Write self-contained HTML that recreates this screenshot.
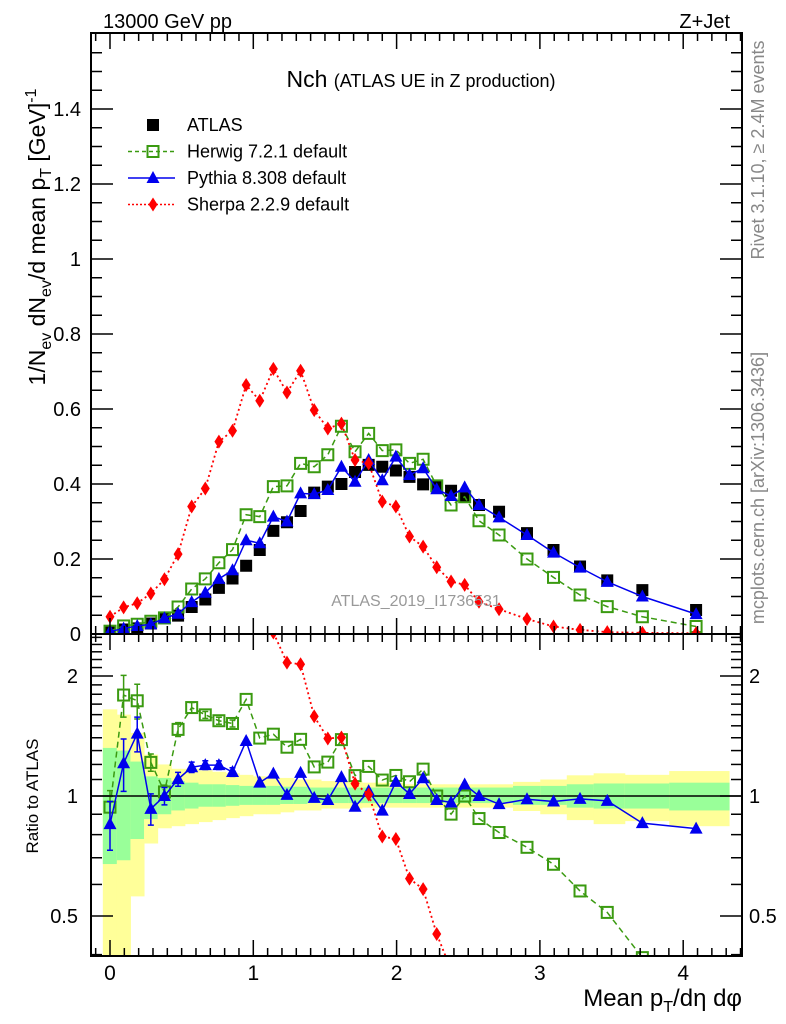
<!DOCTYPE html>
<html><head><meta charset="utf-8"><style>
html,body{margin:0;padding:0;background:#fff;width:786px;height:1024px;overflow:hidden;}
svg{display:block;font-family:"Liberation Sans",sans-serif;}
</style></head><body>
<svg id="chart" width="786" height="1024" viewBox="0 0 786 1024" xmlns="http://www.w3.org/2000/svg">
<g id="bands"></g>
<g id="marks"></g>
<g id="axes"></g>
<text x="103" y="28" font-size="20">13000 GeV pp</text>
<text x="730" y="28" font-size="20" text-anchor="end">Z+Jet</text>
<text x="421" y="87" text-anchor="middle"><tspan font-size="23">Nch </tspan><tspan font-size="18">(ATLAS UE in Z production)</tspan></text>
<text x="416" y="606" font-size="16" fill="#999" text-anchor="middle">ATLAS_2019_I1736531</text>
<text transform="translate(764,150) rotate(-90)" font-size="18" fill="#888" text-anchor="middle">Rivet 3.1.10, ≥ 2.4M events</text>
<text transform="translate(764,488) rotate(-90)" font-size="18" fill="#888" text-anchor="middle">mcplots.cern.ch [arXiv:1306.3436]</text>
<text transform="translate(45,237) rotate(-90)" font-size="23" text-anchor="middle">1/N<tspan font-size="16" dy="6">ev</tspan><tspan dy="-6"> dN</tspan><tspan font-size="16" dy="6">ev</tspan><tspan dy="-6">/d mean p</tspan><tspan font-size="16" dy="6">T</tspan><tspan dy="-6"> [GeV]</tspan><tspan font-size="16" dy="-9">-1</tspan></text>
<text transform="translate(38,796) rotate(-90)" font-size="17" text-anchor="middle">Ratio to ATLAS</text>
<text x="742" y="1006" font-size="24" text-anchor="end">Mean p<tspan font-size="16" dy="6">T</tspan><tspan dy="-6">/dη dφ</tspan></text>
<g id="legend"></g>
</svg>
<script>
const xVals=[0,0.095,0.19,0.285,0.38,0.475,0.57,0.665,0.76,0.855,0.95,1.045,1.14,1.235,1.33,1.425,1.52,1.615,1.71,1.805,1.90,1.995,2.09,2.185,2.28,2.38,2.475,2.575,2.715,2.91,3.095,3.28,3.47,3.715,4.09];
const atlas=[0.008,0.012,0.015,0.028,0.042,0.049,0.072,0.092,0.123,0.148,0.182,0.224,0.275,0.298,0.328,0.377,0.393,0.40,0.432,0.451,0.446,0.436,0.419,0.399,0.395,0.382,0.366,0.344,0.326,0.269,0.224,0.18,0.143,0.117,0.064];
const herwig=[0.0075,0.0215,0.026,0.034,0.043,0.072,0.12,0.147,0.19,0.225,0.318,0.313,0.393,0.395,0.455,0.446,0.478,0.554,0.486,0.535,0.489,0.491,0.455,0.466,0.395,0.344,0.366,0.302,0.264,0.2,0.151,0.104,0.073,0.046,0.02];
const pythia=[0.0068,0.0145,0.0215,0.026,0.042,0.054,0.085,0.11,0.147,0.17,0.25,0.242,0.313,0.3,0.375,0.373,0.384,0.446,0.406,0.464,0.41,0.473,0.424,0.442,0.386,0.368,0.391,0.344,0.311,0.264,0.217,0.177,0.139,0.1,0.053];
const sherpa=[0.046,0.071,0.082,0.108,0.146,0.213,0.34,0.388,0.513,0.542,0.664,0.622,0.707,0.644,0.702,0.597,0.548,0.561,0.464,0.455,0.353,0.34,0.26,0.233,0.178,0.14,0.131,0.086,0.066,0.04,0.02,0.011,0.005,0.003,0.002];
const yellowHi=[1.65,1.6,1.44,1.27,1.2,1.17,1.17,1.16,1.15,1.14,1.13,1.12,1.11,1.11,1.1,1.1,1.09,1.09,1.09,1.08,1.08,1.08,1.07,1.07,1.07,1.07,1.07,1.07,1.07,1.085,1.1,1.127,1.14,1.13,1.155];
const yellowLo=[0.35,0.35,0.56,0.76,0.83,0.84,0.85,0.86,0.87,0.88,0.89,0.9,0.9,0.91,0.92,0.92,0.93,0.93,0.93,0.935,0.935,0.935,0.935,0.935,0.935,0.935,0.935,0.935,0.935,0.917,0.9,0.87,0.85,0.865,0.84];
const greenHi=[1.32,1.3,1.22,1.12,1.11,1.09,1.08,1.07,1.07,1.065,1.06,1.06,1.06,1.055,1.055,1.05,1.05,1.05,1.05,1.05,1.05,1.05,1.05,1.05,1.05,1.05,1.05,1.05,1.05,1.06,1.06,1.07,1.075,1.075,1.08];
const greenLo=[0.675,0.69,0.78,0.875,0.9,0.92,0.93,0.94,0.94,0.945,0.95,0.95,0.95,0.955,0.955,0.96,0.96,0.96,0.96,0.96,0.96,0.96,0.96,0.96,0.96,0.96,0.96,0.96,0.96,0.95,0.95,0.935,0.93,0.93,0.92];
const pythiaRatioErr=[0.14,0.15,0.1,0.09,0.05,0.04,0.03,0.025,0.025,0.025];
const herwigRatioErr=[0.1,0.12,0.1,0.05,0.04,0.04,0.03,0.02,0.02,0.02];
const xTicks=[0,1,2,3,4];
const yTicks=[0,0.2,0.4,0.6,0.8,1,1.2,1.4];
const rTicks=[0.5,1,2];

const NS="http://www.w3.org/2000/svg";
const L=91,R=742,T=33,MB=634,RB=956;
const X=v=>110+v*143.3;
const Y=v=>634-v*375;
const RY=r=>796-120*Math.log2(Math.min(Math.max(r,0.33),3));
function mk(tag,attrs,parent){const e=document.createElementNS(NS,tag);for(const k in attrs)e.setAttribute(k,attrs[k]);parent.appendChild(e);return e;}
const bands=document.getElementById('bands'),marks=document.getElementById('marks'),axes=document.getElementById('axes'),legend=document.getElementById('legend');

for(let i=0;i<xVals.length;i++){
  const x0=i===0?-0.05:(xVals[i-1]+xVals[i])/2;
  const x1=i===xVals.length-1?4.32:(xVals[i]+xVals[i+1])/2;
  const yt=Math.max(RY(yellowHi[i]),635), yb=Math.min(RY(yellowLo[i]),RB);
  const yb2=mk('rect',{x:X(x0),y:yt,width:X(x1)-X(x0)+0.5,height:yb-yt,fill:'#ffff99'},bands);
  
  
  const gt=RY(greenHi[i]), gb=RY(greenLo[i]);
  const g=mk('rect',{x:X(x0),y:gt,width:X(x1)-X(x0)+0.5,height:gb-gt,fill:'#99ff99'},bands);
  
  
}

const defs=mk('defs',{},document.getElementById('chart'));
const c1=mk('clipPath',{id:'cm'},defs);mk('rect',{x:L,y:T,width:R-L,height:MB-T},c1);
const c2=mk('clipPath',{id:'cr'},defs);mk('rect',{x:L,y:MB,width:R-L,height:RB-MB},c2);
const gm=mk('g',{'clip-path':'url(#cm)'},marks);
const gr=mk('g',{'clip-path':'url(#cr)'},marks);
const one=mk('line',{x1:L,x2:R,y1:RY(1),y2:RY(1),stroke:'#000','stroke-width':1.5},gr);



function marker(type,cx,cy,col,parent,name){
  let e;
  if(type==='sq') e=mk('rect',{x:cx-6,y:cy-6,width:12,height:12,fill:'#000'},parent);
  else if(type==='osq') e=mk('rect',{x:cx-5.5,y:cy-5.5,width:11,height:11,fill:'none',stroke:col,'stroke-width':2},parent);
  else if(type==='tri') e=mk('polygon',{points:`${cx},${cy-7} ${cx-6.5},${cy+5} ${cx+6.5},${cy+5}`,fill:col},parent);
  else e=mk('polygon',{points:`${cx},${cy-7} ${cx-4.5},${cy} ${cx},${cy+7} ${cx+4.5},${cy}`,fill:col},parent);
  
  
}
const series=[
 {vals:herwig,col:'#3a9a10',dash:'6,4',w:1.5,m:'osq',name:'herwig',err:herwigRatioErr},
 {vals:pythia,col:'#0000ee',dash:'',w:1.5,m:'tri',name:'pythia',err:pythiaRatioErr},
 {vals:sherpa,col:'#ff0000',dash:'2,3',w:1.8,m:'dia',name:'sherpa',err:[]}
];
atlas.forEach((v,i)=>marker('sq',X(xVals[i]),Y(v),'#000',gm,'atlas-point'));
series.forEach(s=>{
  const pts=s.vals.map((v,i)=>X(xVals[i])+','+Y(v)).join(' ');
  const pl=mk('polyline',{points:pts,fill:'none',stroke:s.col,'stroke-width':s.w,'stroke-dasharray':s.dash},gm);
  
  
  s.vals.forEach((v,i)=>marker(s.m,X(xVals[i]),Y(v),s.col,gm,s.name+'-point'));
  const rat=s.vals.map((v,i)=>v/atlas[i]);
  const rp=rat.map((r,i)=>X(xVals[i])+','+RY(r)).join(' ');
  const rl=mk('polyline',{points:rp,fill:'none',stroke:s.col,'stroke-width':s.w,'stroke-dasharray':s.dash},gr);
  
  
  s.err.forEach((e,i)=>{const cx=X(xVals[i]);const a=RY(rat[i]*(1+e)),b=RY(rat[i]*(1-e));
    const eb=mk('path',{d:`M${cx},${a}V${b}M${cx-3},${a}H${cx+3}M${cx-3},${b}H${cx+3}`,stroke:s.col,'stroke-width':1.5,fill:'none'},gr);
    
    });
  rat.forEach((r,i)=>{if(r>0.35&&r<2.8)marker(s.m,X(xVals[i]),RY(r),s.col,gr,s.name+'-ratio-point');});
});

[[T,MB],[MB,RB]].forEach(([a,b])=>{mk('rect',{x:L,y:a,width:R-L,height:b-a,fill:'none',stroke:'#000','stroke-width':2},axes);});
for(let k=-1;k<=44;k++){const v=k/10;const x=X(v);if(x<L+1||x>R-1)continue;const maj=k%10===0;const len=maj?16:8;
  [[T,1],[MB,-1],[MB,1],[RB,-1]].forEach(([y,d])=>mk('line',{x1:x,x2:x,y1:y,y2:y+d*len,stroke:'#000','stroke-width':1.5},axes));}
xTicks.forEach(v=>{const t=mk('text',{x:X(v),y:980,'font-size':21,'text-anchor':'middle'},axes);t.textContent=v;
  
  });
for(let k=0;k<=31;k++){const v=k*0.05;const y=Y(v);if(y<T+1)continue;const maj=k%4===0;const len=maj?22:11;
  mk('line',{x1:L,x2:L+len,y1:y,y2:y,stroke:'#000','stroke-width':1.5},axes);
  mk('line',{x1:R,x2:R-len,y1:y,y2:y,stroke:'#000','stroke-width':1.5},axes);}
yTicks.forEach(v=>{const t=mk('text',{x:81,y:Y(v)+7,'font-size':20,'text-anchor':'end'},axes);t.textContent=v;
  
  });
[0.4,0.5,0.6,0.7,0.8,0.9,1,1.1,1.2,1.3,1.4,1.5,1.6,1.7,1.8,1.9,2,2.1,2.2,2.3,2.4,2.5].forEach(v=>{const y=RY(v);if(y<MB+1||y>RB-1)return;const maj=rTicks.includes(v);const len=maj?22:11;
  mk('line',{x1:L,x2:L+len,y1:y,y2:y,stroke:'#000','stroke-width':1.5},axes);
  mk('line',{x1:R,x2:R-len,y1:y,y2:y,stroke:'#000','stroke-width':1.5},axes);});
rTicks.forEach(v=>{const t=mk('text',{x:78,y:RY(v)+7,'font-size':20,'text-anchor':'end'},axes);t.textContent=v;
  
  
  const t2=mk('text',{x:749,y:RY(v)+7,'font-size':20},axes);t2.textContent=v;
  
  });

const leg=[['ATLAS','sq','#000',''],['Herwig 7.2.1 default','osq','#3a9a10','4,3'],['Pythia 8.308 default','tri','#0000ee',''],['Sherpa 2.2.9 default','dia','#ff0000','2,2']];
leg.forEach((l,i)=>{const y=125+i*26.5;
  if(i>0){const ln=mk('line',{x1:128,x2:175,y1:y,y2:y,stroke:l[2],'stroke-width':1.5,'stroke-dasharray':l[3]},legend);
    
    }
  marker(l[1],153,y,l[2],legend,'legend-marker');
  const t=mk('text',{x:187,y:y+6,'font-size':18},legend);t.textContent=l[0];
  
  });
</script>
</body></html>
